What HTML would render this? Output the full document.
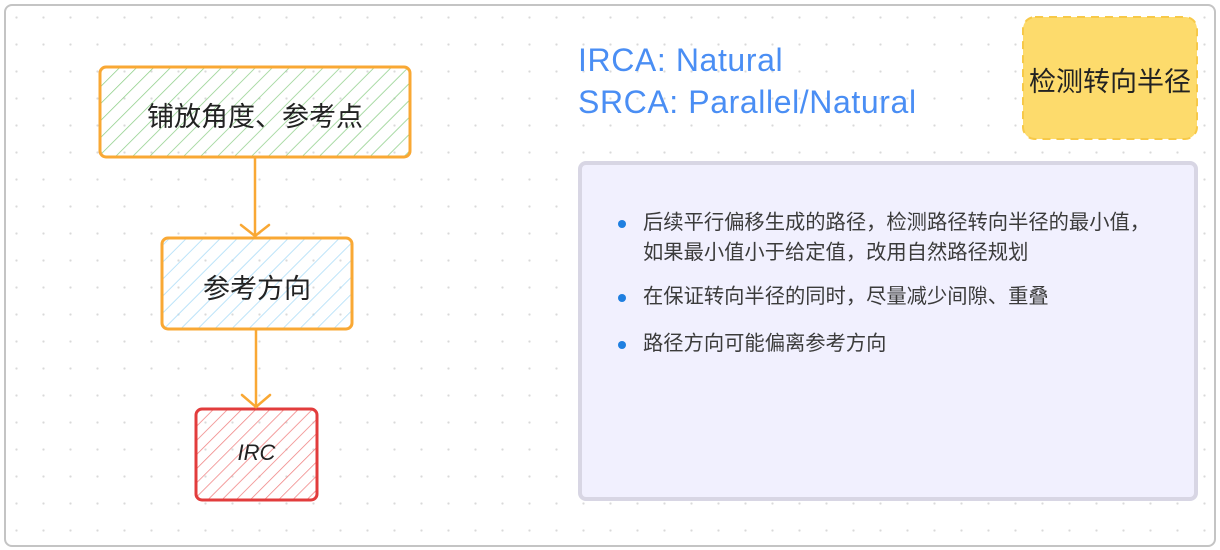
<!DOCTYPE html>
<html><head><meta charset="utf-8"><style>
body{margin:0;width:1220px;height:550px;background:#fff;position:relative;overflow:hidden;font-family:"Liberation Sans","Noto Sans CJK SC",sans-serif}
.frame{position:absolute;left:4px;top:4px;width:1208px;height:539px;border:2px solid #c4c4c4;border-radius:8px;background-image:radial-gradient(circle,#d9d9d9 1px,transparent 1.3px);background-size:27px 27px;background-position:-3px -2px}
.t{position:absolute;color:#222;font-size:27px;text-align:center}
.blue{position:absolute;left:578px;color:#4a8ef4;font-size:32px;line-height:42px;letter-spacing:0.6px}
.card{position:absolute;left:578px;top:161px;width:612px;height:332px;background:#f1f0fe;border:4px solid #d8d6e4;border-radius:8px}
.li{position:absolute;left:61px;font-size:20.3px;color:#3b3b3b;line-height:30px;white-space:nowrap}
.li:before{content:"";position:absolute;left:-25px;top:12px;width:8px;height:8px;border-radius:50%;background:#1f7fe0}
</style></head><body>
<div class="frame"></div>
<svg width="1220" height="550" style="position:absolute;left:0;top:0">
<defs>
<pattern id="hg" width="12" height="12" patternUnits="userSpaceOnUse" patternTransform="rotate(45)"><line x1="0" y1="0" x2="0" y2="12" stroke="#8fcf8a" stroke-width="1.5"/></pattern>
<pattern id="hb" width="12" height="12" patternUnits="userSpaceOnUse" patternTransform="rotate(45)"><line x1="0" y1="0" x2="0" y2="12" stroke="#a8dbf7" stroke-width="1.5"/></pattern>
<pattern id="hr" width="10" height="10" patternUnits="userSpaceOnUse" patternTransform="rotate(45)"><line x1="0" y1="0" x2="0" y2="10" stroke="#f08080" stroke-width="1.5"/></pattern>
</defs>
<rect x="100" y="67" width="310" height="90" rx="6" fill="url(#hg)" stroke="#f9a834" stroke-width="3"/>
<rect x="162" y="238" width="190" height="91" rx="6" fill="url(#hb)" stroke="#f9a834" stroke-width="3"/>
<rect x="196" y="409" width="121" height="91" rx="6" fill="url(#hr)" stroke="#e23c3c" stroke-width="3"/>
<g stroke="#f9a834" stroke-width="2.5" fill="none" stroke-linecap="round">
<line x1="255" y1="157" x2="255" y2="236"/><polyline points="241,225 255,236 269,225"/>
<line x1="256" y1="330" x2="256" y2="407"/><polyline points="242,395 256,407 270,395"/>
</g>
<rect x="1023" y="17" width="174" height="122" rx="12" fill="#fddb6c" stroke="#f7c948" stroke-width="2" stroke-dasharray="8 6"/>
<path d="M873 483 Q888 492 903 483" stroke="#dcdaea" stroke-width="5" fill="none" stroke-linecap="round"/>
</svg>
<div class="t" style="left:100px;top:95px;width:310px">铺放角度、参考点</div>
<div class="t" style="left:162px;top:267px;width:190px">参考方向</div>
<div class="t" style="left:196px;top:440px;width:121px;font-size:22px;font-style:italic">IRC</div>
<div class="t" style="left:1023px;top:60px;width:174px;font-size:27px">检测转向半径</div>
<div class="blue" style="top:39px">IRCA: Natural</div>
<div class="blue" style="top:81px">SRCA: Parallel/Natural</div>
<div class="card">
<div class="li" style="top:43px">后续平行偏移生成的路径，检测路径转向半径的最小值，<br>如果最小值小于给定值，改用自然路径规划</div>
<div class="li" style="top:117px">在保证转向半径的同时，尽量减少间隙、重叠</div>
<div class="li" style="top:164px">路径方向可能偏离参考方向</div>
</div>
</body></html>
